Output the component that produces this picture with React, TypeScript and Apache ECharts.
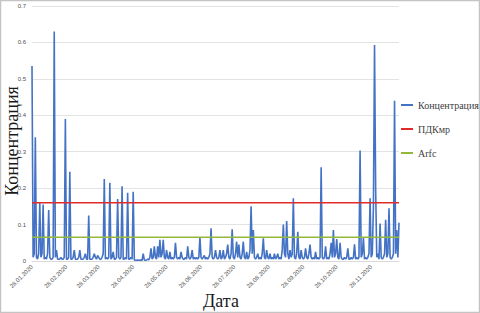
import React, { useEffect, useRef } from "react";
import * as echarts from "echarts";

const START_DATE = "2020-01-28";
const DAY_COUNT = 331;

const TICK_LABELS = [
  "28.01.2020", "28.02.2020", "28.03.2020", "28.04.2020", "28.05.2020", "28.06.2020",
  "28.07.2020", "28.08.2020", "28.09.2020", "28.10.2020", "28.11.2020",
];

const Y_TICKS = [0, 0.1, 0.2, 0.3, 0.4, 0.5, 0.6, 0.7];

const CONCENTRATION = [
  0.535, 0.01, 0.02, 0.34, 0.01, 0.005, 0.02, 0.16, 0.01, 0.02,
  0.155, 0.005, 0.01, 0.005, 0.02, 0.14, 0.01, 0.005, 0.005, 0.01,
  0.63, 0.01, 0.03, 0.005, 0.005, 0.005, 0.01, 0.005, 0.005, 0.01,
  0.39, 0.005, 0.005, 0.01, 0.245, 0.005, 0.005, 0.01, 0.03, 0.005,
  0.005, 0.005, 0.01, 0.03, 0.005, 0.005, 0.005, 0.01, 0.02, 0.005,
  0.005, 0.125, 0.005, 0.005, 0.005, 0.01, 0.02, 0.01, 0.005, 0.015,
  0.01, 0.005, 0.005, 0.01, 0.02, 0.225, 0.005, 0.01, 0.005, 0.01,
  0.215, 0.005, 0.01, 0.025, 0.005, 0.005, 0.01, 0.17, 0.01, 0.005,
  0.01, 0.205, 0.005, 0.005, 0.01, 0.005, 0.187, 0.005, 0.005, 0.01,
  0.005, 0.19, 0.003, 0.002, 0.002, 0.003, 0.002, 0.002, 0.003, 0.002,
  0.02, 0.003, 0.002, 0.003, 0.005, 0.003, 0.01, 0.035, 0.005, 0.01,
  0.04, 0.01, 0.005, 0.04, 0.01, 0.058, 0.01, 0.02, 0.058, 0.01,
  0.005, 0.03, 0.01, 0.005, 0.025, 0.005, 0.01, 0.005, 0.01, 0.05,
  0.01, 0.005, 0.01, 0.005, 0.025, 0.01, 0.005, 0.005, 0.01, 0.005,
  0.04, 0.01, 0.005, 0.01, 0.03, 0.005, 0.01, 0.005, 0.01, 0.005,
  0.01, 0.065, 0.01, 0.005, 0.01, 0.015, 0.005, 0.01, 0.005, 0.01,
  0.02, 0.09, 0.01, 0.005, 0.01, 0.03, 0.01, 0.005, 0.01, 0.03,
  0.005, 0.01, 0.03, 0.005, 0.01, 0.02, 0.045, 0.01, 0.005, 0.02,
  0.087, 0.01, 0.005, 0.02, 0.053, 0.01, 0.045, 0.01, 0.005, 0.02,
  0.053, 0.01, 0.005, 0.025, 0.005, 0.01, 0.03, 0.15, 0.02, 0.085,
  0.01, 0.005, 0.01, 0.02, 0.005, 0.01, 0.005, 0.02, 0.062, 0.01,
  0.005, 0.03, 0.01, 0.005, 0.02, 0.005, 0.01, 0.005, 0.02, 0.005,
  0.01, 0.02, 0.005, 0.01, 0.005, 0.03, 0.1, 0.02, 0.01, 0.11,
  0.02, 0.005, 0.03, 0.01, 0.02, 0.172, 0.01, 0.005, 0.02, 0.08,
  0.01, 0.005, 0.03, 0.01, 0.005, 0.01, 0.035, 0.01, 0.005, 0.02,
  0.045, 0.01, 0.005, 0.01, 0.005, 0.025, 0.005, 0.01, 0.005, 0.01,
  0.257, 0.01, 0.005, 0.01, 0.04, 0.005, 0.01, 0.005, 0.02, 0.05,
  0.01, 0.085, 0.01, 0.02, 0.06, 0.01, 0.005, 0.05, 0.01, 0.005,
  0.005, 0.01, 0.005, 0.01, 0.035, 0.005, 0.005, 0.01, 0.005, 0.01,
  0.046, 0.005, 0.01, 0.005, 0.01, 0.303, 0.01, 0.02, 0.063, 0.005,
  0.01, 0.005, 0.01, 0.02, 0.172, 0.01, 0.02, 0.15, 0.593, 0.2,
  0.01, 0.02, 0.005, 0.103, 0.01, 0.005, 0.01, 0.02, 0.113, 0.01,
  0.02, 0.145, 0.01, 0.005, 0.01, 0.02, 0.44, 0.02, 0.085, 0.01,
  0.105,
];

const PDK_MR = 0.16;
const ARFC = 0.065;

const SERIES_NAMES = ["Концентрация", "ПДКмр", "Arfc"];

function buildDates(): string[] {
  const out: string[] = [];
  const base = new Date(START_DATE + "T00:00:00Z").getTime();
  for (let i = 0; i < DAY_COUNT; i++) {
    const d = new Date(base + i * 86400000);
    const dd = String(d.getUTCDate()).padStart(2, "0");
    const mm = String(d.getUTCMonth() + 1).padStart(2, "0");
    out.push(`${dd}.${mm}.${d.getUTCFullYear()}`);
  }
  return out;
}

export default function App() {
  const ref = useRef<HTMLDivElement>(null);
  useEffect(() => {
    if (!ref.current) return;
    const chart = echarts.init(ref.current, null, { renderer: "svg" });
    const dates = buildDates();
    const first = dates[0];
    const last = dates[dates.length - 1];
    const serif = "Liberation Serif";
    chart.setOption({
      animation: false,
      backgroundColor: "#ffffff",
      grid: { left: 32, right: 81, top: 6, bottom: 52, containLabel: false },
      legend: {
        orient: "vertical",
        left: 396,
        top: 95,
        itemWidth: 12,
        itemHeight: 2,
        itemGap: 14,
        icon: "rect",
        data: SERIES_NAMES,
        textStyle: { fontFamily: serif, fontSize: 10, color: "#404040" },
      },
      xAxis: {
        type: "category",
        data: dates,
        boundaryGap: false,
        axisLine: { show: true, lineStyle: { color: "#d9d9d9" } },
        axisTick: { show: false },
        axisLabel: {
          interval: (_i: number, v: string) => TICK_LABELS.includes(v),
          rotate: 45,
          fontSize: 6,
          color: "#505050",
          fontFamily: "Liberation Sans",
          margin: 5,
        },
        splitLine: { show: false },
      },
      yAxis: {
        type: "value",
        min: Y_TICKS[0],
        max: Y_TICKS[Y_TICKS.length - 1],
        interval: 0.1,
        axisLine: { show: false },
        axisTick: { show: false },
        axisLabel: {
          fontSize: 6,
          color: "#505050",
          fontFamily: "Liberation Sans",
          margin: 6,
          formatter: (v: number) => String(Math.round(v * 10) / 10),
        },
        splitLine: { lineStyle: { color: "#e3e3e3", width: 1 } },
      },
      graphic: [
        {
          type: "rect",
          shape: { x: 0.5, y: 0.5, width: 479, height: 312 },
          style: { fill: "none", stroke: "#c4c4c4", lineWidth: 1.5 },
          silent: true,
          z: -1,
        },
        {
          type: "text",
          x: 12,
          y: 141,
          rotation: Math.PI / 2,
          style: {
            text: "Концентрация",
            font: `18px "Liberation Serif"`,
            fill: "#1a1a1a",
            textAlign: "center",
            textVerticalAlign: "middle",
          },
        },
        {
          type: "text",
          x: 221,
          y: 301,
          style: {
            text: "Дата",
            font: `18px "Liberation Serif"`,
            fill: "#1a1a1a",
            textAlign: "center",
            textVerticalAlign: "middle",
          },
        },
      ],
      series: [
        {
          name: SERIES_NAMES[0],
          type: "line",
          data: CONCENTRATION,
          showSymbol: false,
          symbol: "none",
          lineStyle: { color: "#4472c4", width: 1.6 },
          itemStyle: { color: "#4472c4" },
          z: 2,
        },
        {
          name: SERIES_NAMES[1],
          type: "line",
          data: [[first, PDK_MR], [last, PDK_MR]],
          showSymbol: false,
          symbol: "none",
          lineStyle: { color: "#e02b2b", width: 1.5 },
          itemStyle: { color: "#e02b2b" },
          z: 3,
        },
        {
          name: SERIES_NAMES[2],
          type: "line",
          data: [[first, ARFC], [last, ARFC]],
          showSymbol: false,
          symbol: "none",
          lineStyle: { color: "#93b83a", width: 1.5 },
          itemStyle: { color: "#93b83a" },
          z: 3,
        },
      ],
    });
    return () => chart.dispose();
  }, []);
  return (
    <div
      ref={ref}
      style={{ position: "absolute", left: 0, top: 0, width: 480, height: 313 }}
    />
  );
}
